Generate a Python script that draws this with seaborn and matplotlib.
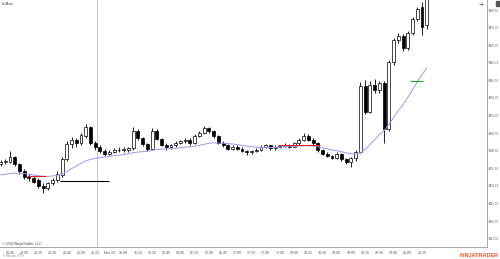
import numpy as np
import pandas as pd
import matplotlib
matplotlib.use("Agg")
import matplotlib.pyplot as plt
from matplotlib.patches import Rectangle
import seaborn as sns

sns.set_theme(style="white")
plt.rcParams['font.family'] = ['Liberation Sans', 'DejaVu Sans']

# ---- data (5-minute bars) ----
opens = [236.0, 236.6, 236.8, 238.0, 236.0, 234.0, 232.4, 232.0, 231.6, 229.8,
         229.4, 230.6, 231.6, 233.0, 237.6, 241.8, 243.0, 242.0, 244.0, 246.6,
         242.0, 240.8, 239.8, 239.0, 239.6, 240.0, 240.2, 240.0, 240.6, 245.6,
         243.4, 241.8, 240.4, 245.6, 243.2, 241.6, 240.8, 241.4, 242.2, 242.6,
         243.0, 242.0, 244.2, 245.0, 246.2, 245.4, 244.0, 242.2, 241.4, 240.4,
         241.0, 240.4, 239.8, 239.4, 239.8, 240.2, 241.0, 241.4, 240.6, 241.0,
         241.2, 241.6, 241.0, 242.0, 243.0, 244.2, 243.0, 242.0, 240.0, 239.0,
         238.4, 237.8, 239.0, 237.4, 236.6, 237.8, 239.6, 258.4, 251.0, 258.6,
         257.0, 259.0, 246.0, 265.0, 271.2, 272.4, 269.0, 273.2, 277.4, 280.6,
         275.6]
highs = [237.2, 237.6, 239.8, 238.4, 236.5, 234.6, 233.2, 232.6, 232.0, 230.6,
         231.0, 232.0, 234.0, 238.0, 242.6, 243.8, 243.6, 245.0, 247.4, 247.0,
         242.6, 241.4, 240.4, 240.2, 240.6, 240.8, 241.0, 241.0, 246.6, 246.0,
         243.8, 242.2, 246.4, 246.0, 243.6, 242.0, 241.8, 242.6, 243.0, 243.4,
         243.4, 244.6, 245.6, 246.8, 246.6, 245.8, 244.4, 242.6, 241.8, 241.4,
         241.4, 240.8, 240.2, 240.2, 240.6, 241.4, 241.8, 241.6, 241.4, 241.6,
         242.0, 241.8, 242.4, 243.4, 244.8, 244.6, 243.4, 242.4, 240.4, 239.6,
         238.8, 239.4, 239.2, 237.8, 238.2, 240.2, 259.4, 260.0, 259.6, 260.2,
         259.6, 259.6, 265.6, 272.0, 273.2, 273.0, 273.8, 278.0, 280.8, 282.0,
         285.0]
lows = [235.6, 236.0, 236.3, 235.6, 233.4, 231.8, 231.4, 230.6, 229.4, 228.0,
        228.6, 230.0, 231.0, 232.4, 237.0, 240.6, 241.0, 241.6, 243.4, 241.4,
        240.2, 239.2, 238.4, 238.6, 239.2, 239.4, 239.6, 239.4, 240.2, 242.8,
        241.2, 239.8, 240.0, 242.8, 241.2, 240.2, 240.4, 241.0, 241.8, 242.0,
        241.6, 241.8, 243.8, 244.6, 244.8, 243.6, 241.8, 240.8, 240.0, 240.0,
        240.0, 239.4, 238.8, 239.0, 239.4, 239.8, 240.6, 240.2, 240.2, 240.6,
        240.8, 240.6, 240.8, 241.6, 242.6, 242.6, 241.6, 239.6, 238.6, 238.0,
        237.4, 237.4, 237.0, 236.0, 235.2, 237.0, 239.2, 250.2, 250.6, 256.4,
        256.4, 242.0, 245.4, 264.2, 270.4, 268.2, 268.6, 272.8, 276.6, 272.8,
        274.4]
closes = [236.6, 237.0, 238.0, 236.0, 234.0, 232.4, 232.0, 231.0, 229.8, 229.4,
          230.6, 231.6, 233.4, 237.6, 241.8, 243.0, 242.0, 244.4, 246.6, 242.0,
          240.8, 239.8, 239.0, 239.6, 240.0, 240.2, 240.4, 240.6, 245.6, 243.4,
          241.8, 240.4, 245.6, 243.2, 241.6, 240.8, 241.4, 242.2, 242.6, 243.0,
          242.0, 244.2, 245.0, 246.2, 245.4, 244.0, 242.2, 241.4, 240.4, 241.0,
          240.4, 239.8, 239.4, 239.8, 240.2, 241.0, 241.4, 240.6, 241.0, 241.2,
          241.6, 241.0, 242.0, 243.0, 244.2, 243.0, 242.0, 240.0, 239.0, 238.4,
          237.8, 239.0, 237.4, 236.6, 237.8, 239.6, 258.4, 251.0, 258.6, 257.0,
          259.0, 246.0, 265.0, 271.2, 272.4, 269.0, 273.2, 277.4, 280.2, 275.1,
          284.0]
sma = [233.0, 233.2, 233.4, 233.5, 233.5, 233.4, 233.2, 233.0, 232.8, 232.6,
       232.6, 232.7, 232.9, 233.3, 234.0, 234.8, 235.5, 236.3, 237.0, 237.4,
       237.7, 237.9, 238.1, 238.3, 238.5, 238.6, 238.8, 239.0, 239.3, 239.5,
       239.6, 239.7, 240.0, 240.2, 240.3, 240.4, 240.5, 240.6, 240.7, 240.9,
       241.0, 241.2, 241.4, 241.7, 242.0, 242.1, 242.1, 242.0, 241.9, 241.8,
       241.6, 241.4, 241.2, 241.0, 240.9, 240.8, 240.8, 240.8, 240.8, 240.9,
       241.0, 241.0, 241.1, 241.2, 241.3, 241.3, 241.2, 241.0, 240.7, 240.4,
       240.1, 239.9, 239.6, 239.3, 239.0, 238.9, 239.2, 240.2, 241.6, 243.0,
       244.5, 245.6, 247.3, 249.3, 251.3, 253.0, 255.0, 257.2, 259.4, 261.4,
       263.4]
tick_labels = ["19:45", "20:00", "20:15", "20:30", "20:45", "21:00", "21:15", "Mar 02",
               "15:00", "15:15", "15:30", "15:45", "16:00", "16:15", "16:30", "16:45",
               "17:00", "17:15", "17:30", "17:45", "18:00", "18:15", "18:30", "18:45",
               "19:00", "19:15", "19:30", "19:45", "20:00", "20:15"]
price_ticks = [215, 220, 225, 230, 235, 240, 245, 250, 255, 260, 265, 270, 275, 280]
# horizontal level segments
levels_start = [5.5, 12.5, 58.5, 86.5]
levels_end = [9.5, 23.0, 67.5, 89.3]
levels_price = [232.7, 231.2, 241.5, 259.7]
levels_color = ["#e0202a", "#000000", "#e0202a", "#22aa22"]

n = len(closes)
df = pd.DataFrame({"bar": np.arange(n), "open": opens, "high": highs,
                   "low": lows, "close": closes, "sma": sma})

fig = plt.figure(figsize=(5.0, 2.59), dpi=100)
ax = fig.add_axes([0.0, 0.046, 0.974, 0.954])

# wicks
ax.vlines(df["bar"], df["low"], df["high"], color="black", lw=0.6, zorder=2)
# bodies
up = df["close"] >= df["open"]
bw = 0.62
body_bottom = np.minimum(df["open"], df["close"])
body_h = np.maximum(np.abs(df["close"] - df["open"]), 0.15)
ax.bar(df["bar"][up], body_h[up], bottom=body_bottom[up], width=bw,
       color="white", edgecolor="black", linewidth=0.5, zorder=3)
ax.bar(df["bar"][~up], body_h[~up], bottom=body_bottom[~up], width=bw,
       color="black", edgecolor="black", linewidth=0.5, zorder=3)

sns.lineplot(data=df, x="bar", y="sma", ax=ax, color="#9a9af0", lw=0.7, zorder=4)

for s, e, p, c in zip(levels_start, levels_end, levels_price, levels_color):
    ax.hlines(p, s, e, color=c, lw=0.8, zorder=5)

# session break
ax.axvline(20.3, color="#bdbdbd", lw=0.6, zorder=1)

ax.set_xlim(-0.11, 102.73)
ax.set_ylim(212.5, 282.7)
ax.set_xticks(np.arange(2, 2 + 3 * len(tick_labels), 3))
ax.set_xticklabels(tick_labels)
ax.set_yticks(price_ticks)
ax.set_yticklabels([f"${p:.2f}" for p in price_ticks])
ax.yaxis.tick_right()
ax.tick_params(axis="x", labelsize=2.6, colors="#555555", length=1.5, width=0.4, pad=1.0)
ax.tick_params(axis="y", labelsize=2.0, colors="#555555", length=0.8, width=0.4, pad=0.3)
ax.set_xlabel("")
ax.set_ylabel("")
for side in ["top", "left"]:
    ax.spines[side].set_visible(False)
for side in ["bottom", "right"]:
    ax.spines[side].set_color("#999999")
    ax.spines[side].set_linewidth(0.6)

# price marker at top right (last price above visible range)
fig.patches.append(Rectangle((0.991, 0.978), 0.007, 0.019, transform=fig.transFigure,
                             color="#555555", zorder=10))
fig.text(0.957, 0.982, "\u279c", fontsize=4, color="#666666", ha="left", va="center",
         family=["DejaVu Sans"])

fig.text(0.004, 0.992, "ImBox", fontsize=3, color="#333333", ha="left", va="top")
fig.text(0.004, 0.052, "\u00a9 2024 NinjaTrader, LLC", fontsize=2.6, color="#444444", ha="left", va="bottom")
fig.text(0.006, 0.005, "5 Minute RTH", fontsize=2.4, color="#999999", ha="left", va="bottom")
fig.text(0.998, 0.003, "NINJATRADER", fontsize=4, color="#f04e23", ha="right", va="bottom",
         fontweight="bold")

fig.savefig("out.png", dpi=100, facecolor="white")
